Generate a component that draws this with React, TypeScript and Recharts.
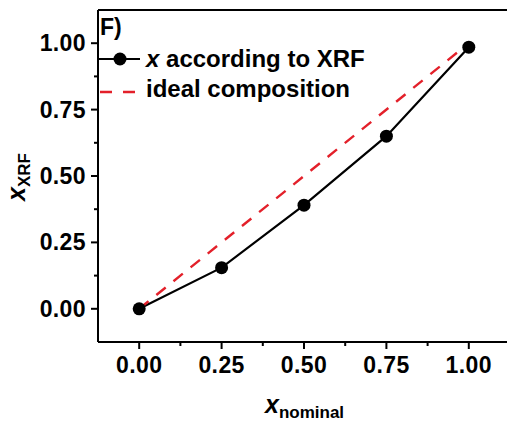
import { LineChart, Line, XAxis, YAxis, ReferenceLine } from 'recharts';

// composition data
const xNominal = [0, 0.25, 0.5, 0.75, 1.0];
const xXrf = [0, 0.155, 0.39, 0.65, 0.985];
const idealNominal = [0, 1];
const idealXrf = [0, 1];
const axisTicks = [0, 0.125, 0.25, 0.375, 0.5, 0.625, 0.75, 0.875, 1.0];
const majorTicks = [0, 0.25, 0.5, 0.75, 1.0];

const FONT = '"Liberation Sans", Arial, sans-serif';

const xrfData = xNominal.map((x, i) => ({ x, y: xXrf[i] }));
const idealData = idealNominal.map((x, i) => ({ x, y: idealXrf[i] }));

const isMajor = (v: number) => majorTicks.some((m) => Math.abs(m - v) < 1e-9);

function BottomTick(props: any) {
  const { x, y, payload } = props;
  const major = isMajor(payload.value);
  return (
    <g>
      <line x1={x} x2={x} y1={y} y2={y + (major ? 7 : 4)} stroke="#000" strokeWidth={2} />
      {major && (
        <text x={x} y={y + 31} textAnchor="middle" fontFamily={FONT} fontWeight="bold" fontSize={23} letterSpacing={0.4} fill="#000">
          {payload.value.toFixed(2)}
        </text>
      )}
    </g>
  );
}

function LeftTick(props: any) {
  const { x, y, payload } = props;
  const major = isMajor(payload.value);
  return (
    <g>
      <line x1={x} x2={x - (major ? 7 : 4)} y1={y} y2={y} stroke="#000" strokeWidth={2} />
      {major && (
        <text x={x - 12} y={y + 8} textAnchor="end" fontFamily={FONT} fontWeight="bold" fontSize={23} letterSpacing={0.4} fill="#000">
          {payload.value.toFixed(2)}
        </text>
      )}
    </g>
  );
}

export default function App() {
  return (
    <div style={{ position: 'absolute', left: 0, top: 0, width: 507, height: 424, overflow: 'hidden', background: '#fff' }}>
      <LineChart width={520} height={424} margin={{ top: 10, right: 10, left: 0, bottom: 0 }}>
        <XAxis
          dataKey="x"
          type="number"
          domain={[-0.125, 1.125]}
          ticks={axisTicks}
          tick={<BottomTick />}
          tickSize={0}
          tickMargin={0}
          tickLine={false}
          height={82}
          axisLine={{ stroke: '#000', strokeWidth: 2 }}
          allowDataOverflow
        />
        <YAxis
          dataKey="y"
          type="number"
          domain={[-0.125, 1.125]}
          ticks={axisTicks}
          tick={<LeftTick />}
          tickSize={0}
          tickMargin={0}
          tickLine={false}
          width={98}
          axisLine={{ stroke: '#000', strokeWidth: 2 }}
          allowDataOverflow
        />
        <ReferenceLine y={1.125} stroke="#000" strokeWidth={2} ifOverflow="visible" />
        <Line
          data={xrfData}
          dataKey="y"
          type="linear"
          stroke="#000"
          strokeWidth={2.2}
          dot={{ r: 6.5, fill: '#000', stroke: '#000', strokeWidth: 0 }}
          isAnimationActive={false}
        />
        <Line
          data={idealData}
          dataKey="y"
          type="linear"
          stroke="#e3202a"
          strokeWidth={2.4}
          strokeDasharray="12 10"
          dot={false}
          isAnimationActive={false}
        />
      </LineChart>
      <svg width={507} height={424} style={{ position: 'absolute', left: 0, top: 0, pointerEvents: 'none' }}>
        <g fontFamily={FONT} fontWeight="bold" fill="#000">
          <text x={100} y={35} fontSize={23}>F)</text>
          <line x1={97} x2={140} y1={59} y2={59} stroke="#000" strokeWidth={2} />
          <circle cx={120} cy={59} r={6.5} fill="#000" />
          <text x={146} y={67} fontSize={24}>
            <tspan fontStyle="italic">x</tspan> according to XRF
          </text>
          <line x1={100} x2={135} y1={92} y2={92} stroke="#e3202a" strokeWidth={2.4} strokeDasharray="12 11" />
          <text x={146} y={97} fontSize={24}>ideal composition</text>
          <text x={265} y={413} fontSize={25}>
            <tspan fontStyle="italic">x</tspan>
            <tspan fontSize={17} dy={5}>nominal</tspan>
          </text>
          <text transform="translate(25,201) rotate(-90)" fontSize={25}>
            <tspan fontStyle="italic">x</tspan>
            <tspan fontSize={17} dy={5}>XRF</tspan>
          </text>
        </g>
      </svg>
    </div>
  );
}
